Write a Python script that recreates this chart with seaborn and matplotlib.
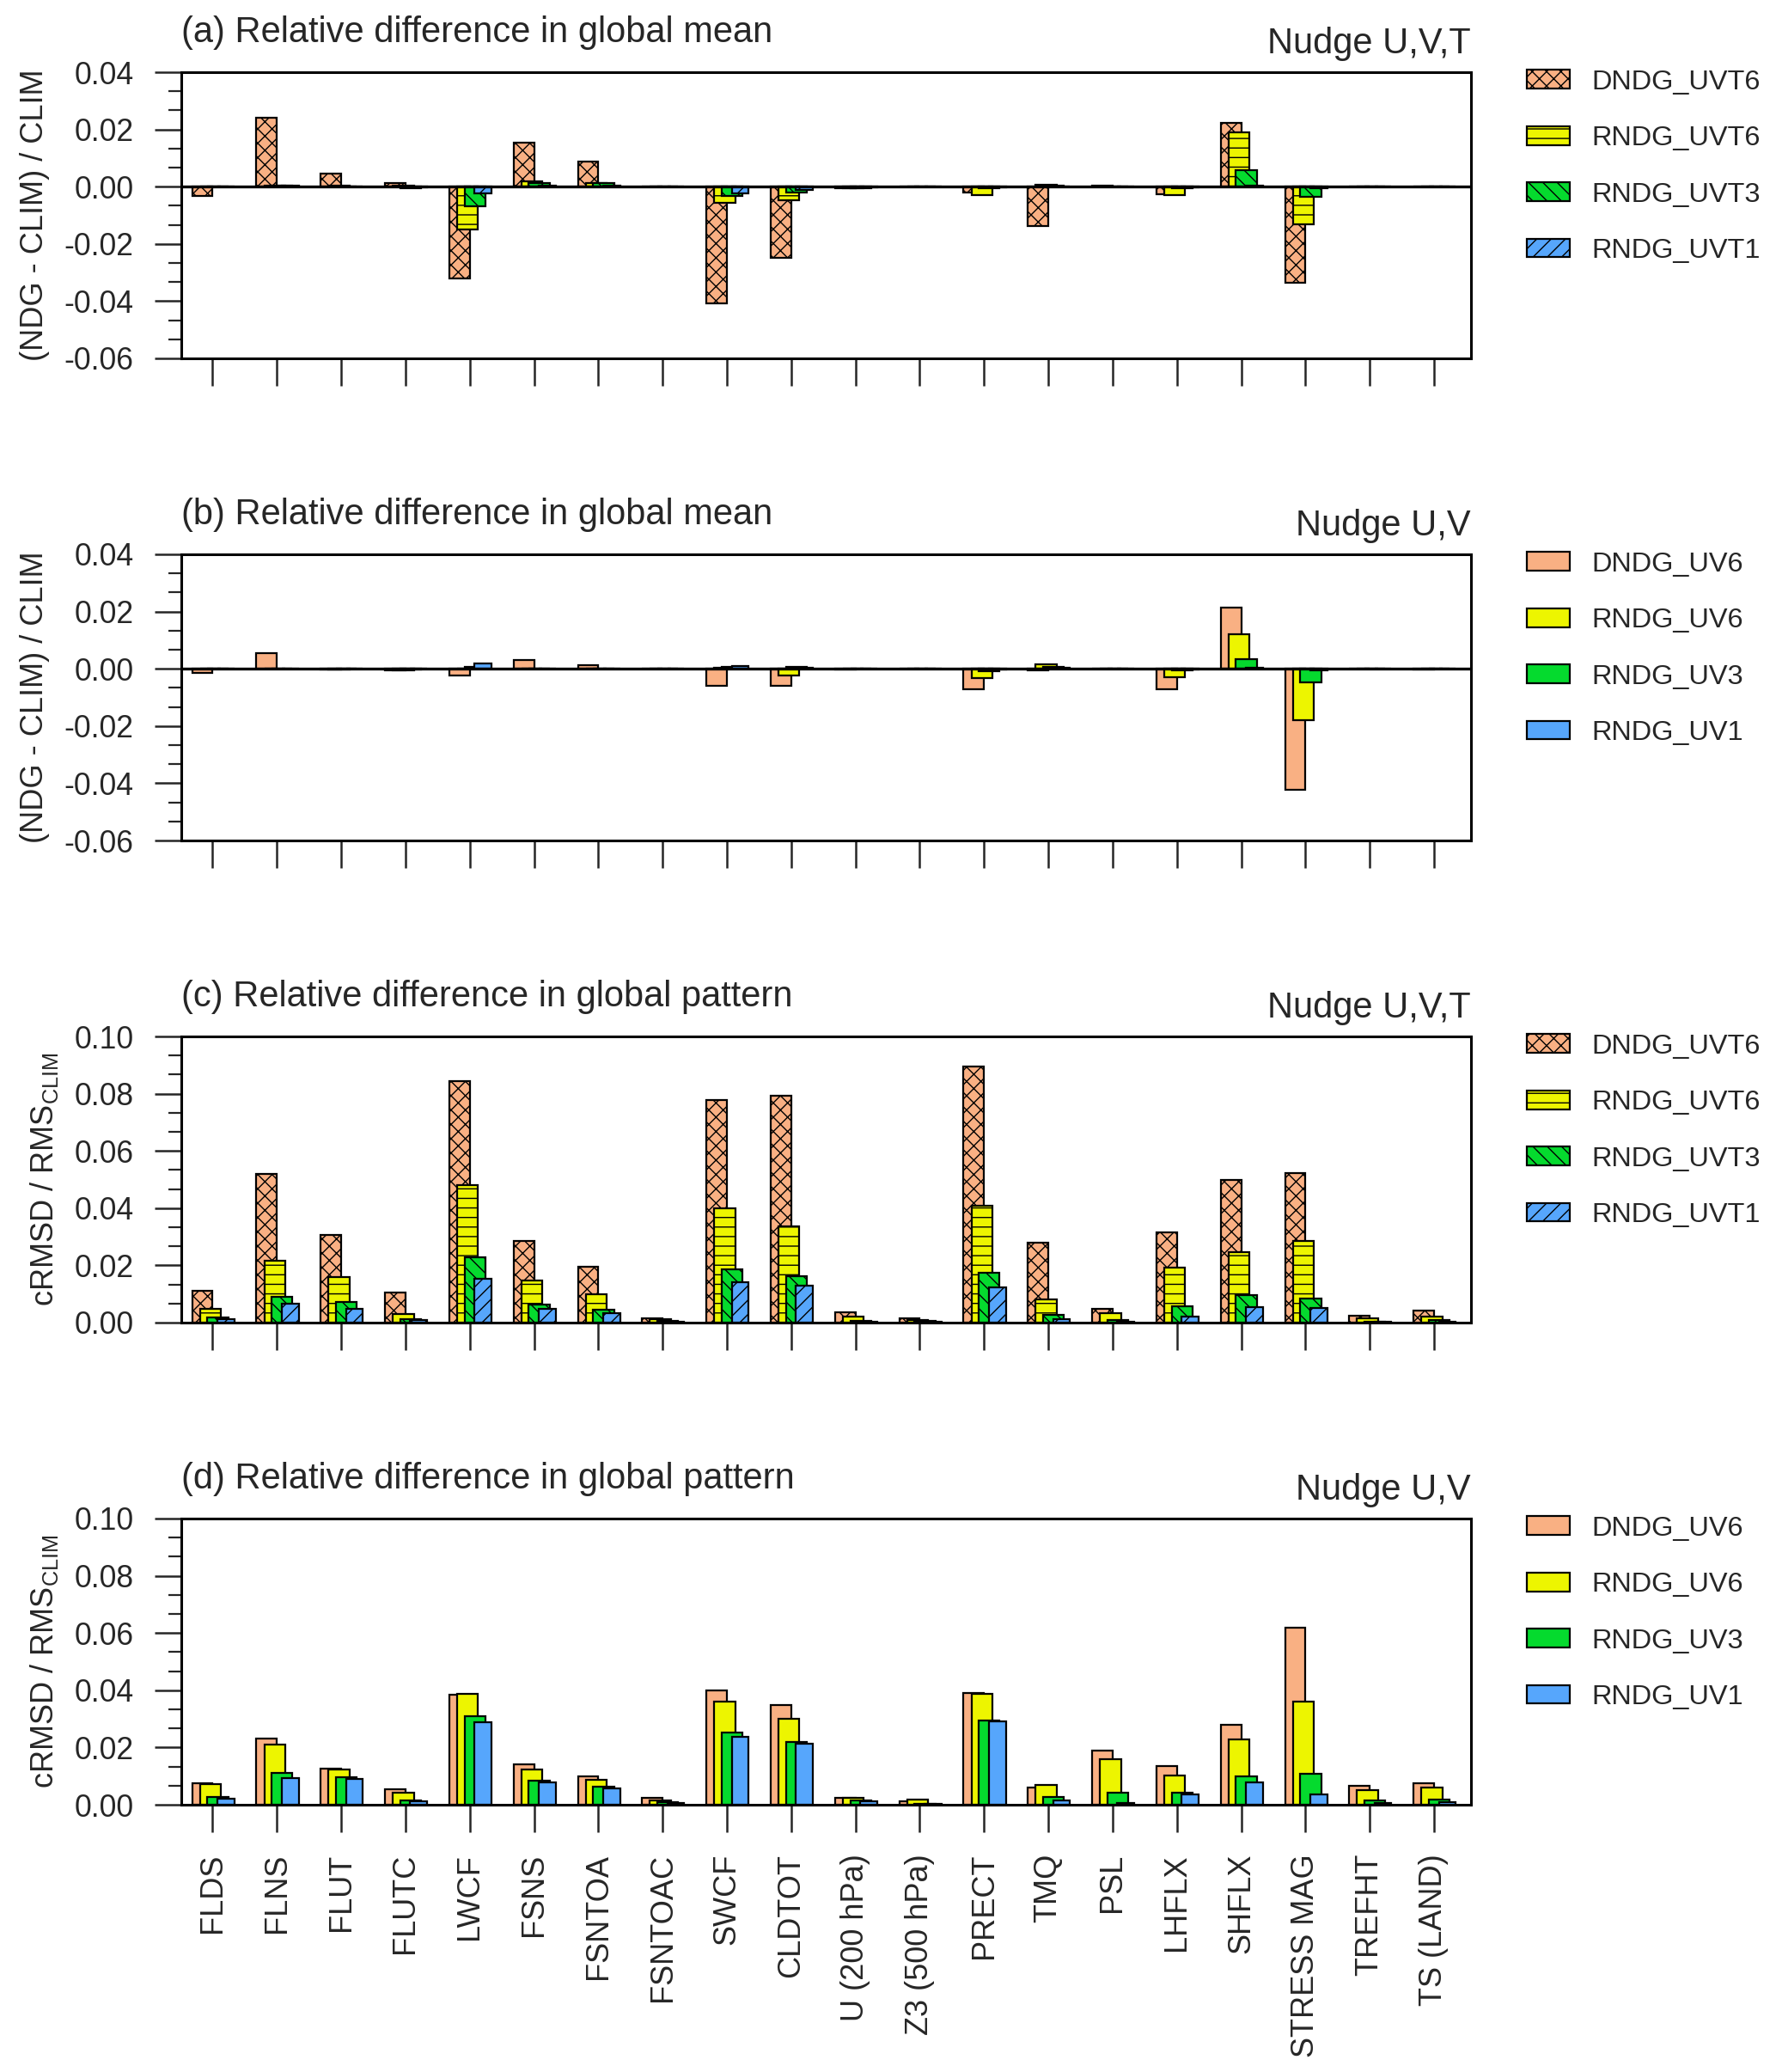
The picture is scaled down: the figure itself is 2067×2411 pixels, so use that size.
import numpy as np
import pandas as pd
import matplotlib
matplotlib.use("Agg")
import matplotlib.pyplot as plt
from matplotlib.patches import Patch
from matplotlib.ticker import AutoMinorLocator, MultipleLocator, FormatStrFormatter
import seaborn as sns

# ---------------- data ----------------
categories = ["FLDS", "FLNS", "FLUT", "FLUTC", "LWCF", "FSNS", "FSNTOA", "FSNTOAC",
              "SWCF", "CLDTOT", "U (200 hPa)", "Z3 (500 hPa)", "PRECT", "TMQ", "PSL",
              "LHFLX", "SHFLX", "STRESS MAG", "TREFHT", "TS (LAND)"]

labels_uvt = ["DNDG_UVT6", "RNDG_UVT6", "RNDG_UVT3", "RNDG_UVT1"]
labels_uv = ["DNDG_UV6", "RNDG_UV6", "RNDG_UV3", "RNDG_UV1"]

# (a) relative difference in global mean, nudge U,V,T
a_dndg_uvt6 = [-0.0033, 0.0240, 0.0046, 0.0012, -0.0322, 0.0153, 0.0087, 0.0002, -0.0409, -0.0249,
               -0.0005, 0.0001, -0.0021, -0.0139, 0.0003, -0.0026, 0.0223, -0.0336, 0.0002, 0.0002]
a_rndg_uvt6 = [0.0002, 0.0005, 0.0003, 0.0005, -0.0150, 0.0020, 0.0013, 0.0001, -0.0056, -0.0048,
               -0.0005, 0.0000, -0.0028, 0.0006, 0.0001, -0.0028, 0.0190, -0.0131, 0.0000, 0.0000]
a_rndg_uvt3 = [0.0001, 0.0004, 0.0002, -0.0005, -0.0068, 0.0012, 0.0012, 0.0000, -0.0033, -0.0021,
               -0.0005, 0.0000, -0.0005, 0.0005, 0.0000, -0.0005, 0.0057, -0.0036, 0.0000, 0.0000]
a_rndg_uvt1 = [0.0000, 0.0003, 0.0001, -0.0003, -0.0024, 0.0005, 0.0003, 0.0000, -0.0023, -0.0012,
               -0.0003, 0.0000, -0.0003, 0.0002, 0.0000, -0.0002, 0.0005, -0.0005, 0.0000, 0.0000]

# (b) relative difference in global mean, nudge U,V
b_dndg_uv6 = [-0.0015, 0.0055, -0.0003, -0.0005, -0.0022, 0.0032, 0.0014, 0.0000, -0.0060, -0.0058,
              -0.0002, 0.0000, -0.0070, -0.0005, 0.0000, -0.0070, 0.0213, -0.0423, 0.0000, -0.0003]
b_rndg_uv6 = [0.0000, 0.0000, -0.0003, -0.0005, 0.0000, 0.0000, 0.0000, 0.0000, 0.0003, -0.0022,
              0.0000, 0.0000, -0.0032, 0.0017, 0.0000, -0.0030, 0.0120, -0.0180, 0.0000, 0.0000]
b_rndg_uv3 = [0.0000, 0.0000, 0.0000, -0.0003, 0.0008, 0.0000, 0.0000, 0.0000, 0.0007, 0.0008,
              0.0000, 0.0000, -0.0008, 0.0008, 0.0000, -0.0005, 0.0033, -0.0047, 0.0000, 0.0000]
b_rndg_uv1 = [0.0000, 0.0000, 0.0000, 0.0000, 0.0018, 0.0000, 0.0000, 0.0000, 0.0010, 0.0003,
              0.0000, 0.0000, -0.0003, 0.0004, 0.0000, -0.0003, 0.0003, -0.0005, 0.0000, 0.0000]

# (c) relative difference in global pattern, nudge U,V,T
c_dndg_uvt6 = [0.0110, 0.0521, 0.0306, 0.0104, 0.0845, 0.0285, 0.0195, 0.0016, 0.0777, 0.0792,
               0.0035, 0.0016, 0.0895, 0.0278, 0.0049, 0.0314, 0.0497, 0.0523, 0.0024, 0.0043]
c_rndg_uvt6 = [0.0048, 0.0215, 0.0159, 0.0029, 0.0481, 0.0147, 0.0100, 0.0012, 0.0400, 0.0336,
               0.0021, 0.0010, 0.0409, 0.0082, 0.0034, 0.0191, 0.0245, 0.0284, 0.0014, 0.0022]
c_rndg_uvt3 = [0.0018, 0.0089, 0.0073, 0.0012, 0.0227, 0.0063, 0.0045, 0.0006, 0.0187, 0.0161,
               0.0007, 0.0005, 0.0175, 0.0026, 0.0010, 0.0057, 0.0095, 0.0083, 0.0004, 0.0008]
c_rndg_uvt1 = [0.0012, 0.0065, 0.0048, 0.0008, 0.0153, 0.0047, 0.0033, 0.0004, 0.0141, 0.0129,
               0.0003, 0.0002, 0.0123, 0.0012, 0.0003, 0.0021, 0.0055, 0.0050, 0.0002, 0.0004]

# (d) relative difference in global pattern, nudge U,V
d_dndg_uv6 = [0.0076, 0.0231, 0.0126, 0.0054, 0.0383, 0.0142, 0.0100, 0.0024, 0.0400, 0.0348,
              0.0024, 0.0012, 0.0389, 0.0059, 0.0188, 0.0134, 0.0279, 0.0618, 0.0065, 0.0076]
d_rndg_uv6 = [0.0072, 0.0211, 0.0124, 0.0043, 0.0386, 0.0123, 0.0087, 0.0016, 0.0359, 0.0299,
              0.0023, 0.0017, 0.0388, 0.0070, 0.0158, 0.0102, 0.0228, 0.0361, 0.0051, 0.0059]
d_rndg_uv3 = [0.0028, 0.0110, 0.0096, 0.0016, 0.0310, 0.0083, 0.0062, 0.0008, 0.0252, 0.0219,
              0.0015, 0.0004, 0.0294, 0.0026, 0.0041, 0.0043, 0.0100, 0.0108, 0.0015, 0.0019]
d_rndg_uv1 = [0.0021, 0.0093, 0.0090, 0.0012, 0.0289, 0.0078, 0.0058, 0.0005, 0.0238, 0.0214,
              0.0013, 0.0002, 0.0292, 0.0016, 0.0006, 0.0036, 0.0078, 0.0036, 0.0007, 0.0009]

# ---------------- style ----------------
colors = ["#F9B083", "#EDF500", "#05DA2E", "#56A6FC"]
hatches = ["xxxx", "---", "\\\\\\\\", "////"]
offsets = [-0.159, -0.034, 0.081, 0.206]   # bar centre offsets (category units)
widths = [0.318, 0.325, 0.325, 0.264]

sns.set_theme(style="ticks")
plt.rcParams["font.family"] = ["Liberation Sans", "DejaVu Sans"]
plt.rcParams["mathtext.fontset"] = "custom"
plt.rcParams["mathtext.rm"] = "Liberation Sans"
plt.rcParams["hatch.linewidth"] = 0.5
plt.rcParams["axes.linewidth"] = 1.1

W, H, DPI = 2067, 2411, 200
fig = plt.figure(figsize=(W / DPI, H / DPI), dpi=DPI)

ax_left = 211 / W
ax_w = 1501 / W
ax_h = 333 / H
tops_px = [84, 645, 1206, 1767]

panels = [
    dict(series=[a_dndg_uvt6, a_rndg_uvt6, a_rndg_uvt3, a_rndg_uvt1], labels=labels_uvt, hatched=True,
         title="(a) Relative difference in global mean", tag="Nudge U,V,T",
         ylim=(-0.06, 0.04), ylabel="(NDG - CLIM) / CLIM", zero=True),
    dict(series=[b_dndg_uv6, b_rndg_uv6, b_rndg_uv3, b_rndg_uv1], labels=labels_uv, hatched=False,
         title="(b) Relative difference in global mean", tag="Nudge U,V",
         ylim=(-0.06, 0.04), ylabel="(NDG - CLIM) / CLIM", zero=True),
    dict(series=[c_dndg_uvt6, c_rndg_uvt6, c_rndg_uvt3, c_rndg_uvt1], labels=labels_uvt, hatched=True,
         title="(c) Relative difference in global pattern", tag="Nudge U,V,T",
         ylim=(0.0, 0.10), ylabel=r"cRMSD / RMS$_{\mathregular{CLIM}}$", zero=False),
    dict(series=[d_dndg_uv6, d_rndg_uv6, d_rndg_uv3, d_rndg_uv1], labels=labels_uv, hatched=False,
         title="(d) Relative difference in global pattern", tag="Nudge U,V",
         ylim=(0.0, 0.10), ylabel=r"cRMSD / RMS$_{\mathregular{CLIM}}$", zero=False),
]

idx = np.arange(len(categories))

for pi, p in enumerate(panels):
    bottom = 1 - (tops_px[pi] + 333) / H
    ax = fig.add_axes([ax_left, bottom, ax_w, ax_h])
    for si, vals in enumerate(p["series"]):
        df = pd.DataFrame({"x": idx + offsets[si], "y": vals})
        sns.barplot(data=df, x="x", y="y", native_scale=True, width=widths[si],
                    color=colors[si], saturation=1, edgecolor="black", linewidth=0.8,
                    hatch=hatches[si] if p["hatched"] else None, errorbar=None, ax=ax)
    if p["zero"]:
        ax.axhline(0, color="black", lw=1.2, zorder=5)
    ax.set_xlim(-0.487, 19.575)
    ax.set_ylim(*p["ylim"])
    ax.yaxis.set_major_locator(MultipleLocator(0.02))
    ax.yaxis.set_minor_locator(AutoMinorLocator(3))
    ax.yaxis.set_major_formatter(FormatStrFormatter("%.2f"))
    ax.set_xticks(idx)
    if pi == 3:
        ax.set_xticklabels(categories, rotation=90, va="top", ha="center", fontsize=13)
    else:
        ax.set_xticklabels([])
    ax.set_xlabel("")
    ax.set_ylabel(p["ylabel"], fontsize=13, labelpad=6)
    ax.tick_params(axis="x", which="major", direction="out", length=11.5, width=0.9, pad=9,
                   bottom=True, top=False)
    ax.tick_params(axis="x", which="minor", bottom=False, top=False)
    ax.tick_params(axis="y", which="major", direction="out", length=11, width=0.9, pad=9,
                   labelsize=12.8, left=True, right=False)
    ax.tick_params(axis="y", which="minor", direction="out", length=5.5, width=0.8,
                   left=True, right=False)
    for s in ax.spines.values():
        s.set_visible(True)
        s.set_linewidth(1.1)
        s.set_color("black")
    ax.annotate(p["title"], xy=(0, 1), xycoords="axes fraction", xytext=(0, 12.6),
                textcoords="offset points", ha="left", va="baseline", fontsize=15)
    ax.annotate(p["tag"], xy=(1, 1), xycoords="axes fraction", xytext=(0, 8),
                textcoords="offset points", ha="right", va="baseline", fontsize=15)
    handles = [Patch(facecolor=colors[k], edgecolor="black", linewidth=0.8,
                     hatch=hatches[k] if p["hatched"] else None, label=p["labels"][k])
               for k in range(4)]
    ax.legend(handles=handles, loc="upper left", bbox_to_anchor=(1.0433, 1.010),
              frameon=False, prop={"size": 11.7}, handlelength=1.54, handleheight=0.65,
              handletextpad=0.77, labelspacing=1.09, borderpad=0, borderaxespad=0)

fig.savefig("out.png", dpi=DPI)
